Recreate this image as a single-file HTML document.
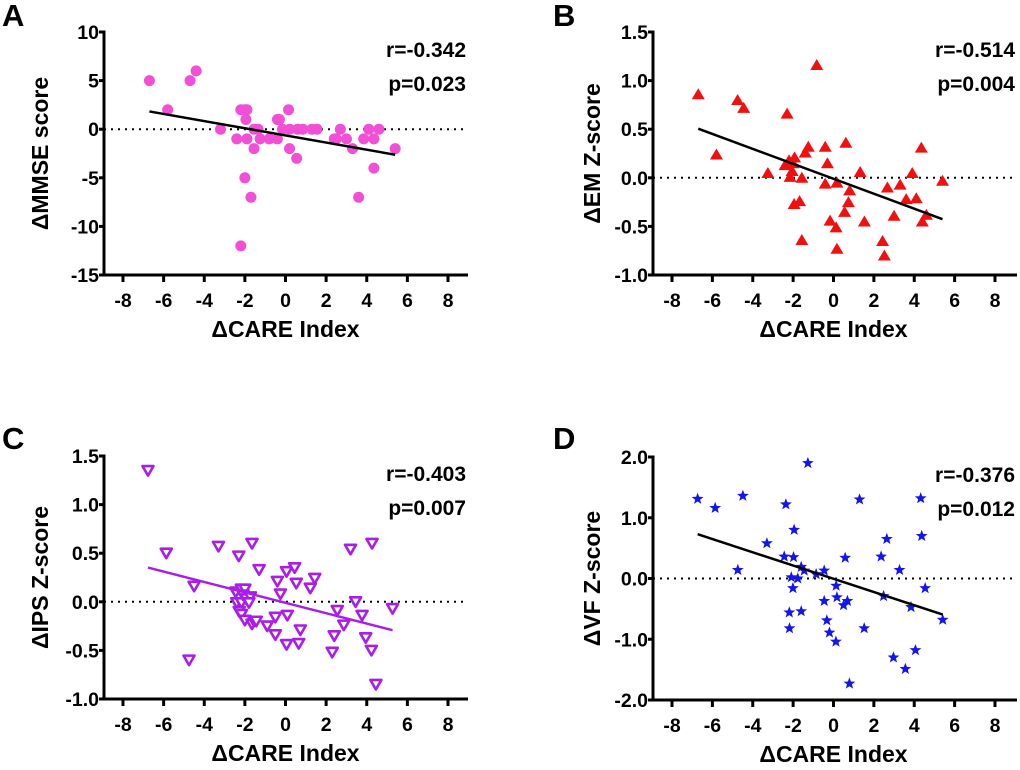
<!DOCTYPE html>
<html><head><meta charset="utf-8"><style>
body{margin:0;background:#fff;}
svg text{font-family:"Liberation Sans",Arial,sans-serif;font-weight:bold;fill:#000;}
</style></head><body>
<svg id="fig" width="1020" height="765" viewBox="0 0 1020 765" xmlns="http://www.w3.org/2000/svg"></svg>
<script>
// Panel A: ΔMMSE
const aX=[-6.7,-5.8,-4.7,-4.4,-3.2,-2.4,-2.2,-2.0,-1.9,-1.95,-1.9,-2.0,-1.7,-2.2,-1.55,-1.35,-1.55,-1.25,-0.8,-0.4,-0.4,-0.3,-0.15,0.2,0.15,0.2,0.55,0.6,0.85,1.3,1.55,2.4,2.5,2.7,3.0,3.3,3.6,3.85,4.1,4.35,4.35,4.6,5.4];
const aY=[5,2,5,6,0,-1,2,2,2,1,-1,-5,-7,-12,0,0,-2,-1,-1,-1,1,1,0,0,2,-2,-3,0,0,0,0,-1,-1,0,-1,-2,-7,-1,0,-1,-4,0,-2];
// Panel B: ΔEM
const bX=[-6.7,-5.8,-4.75,-4.45,-2.3,-3.25,-2.4,-2.2,-1.93,-2.0,-2.05,-2.15,-1.57,-1.95,-1.68,-1.57,-1.4,-1.25,-0.83,-0.41,-0.3,-0.41,-0.17,0.13,0.17,0.17,0.61,0.8,0.74,0.55,1.32,1.53,2.43,2.52,2.67,3.0,3.3,3.6,3.9,4.1,4.35,4.4,4.6,5.4];
const bY=[0.86,0.24,0.80,0.72,0.66,0.05,0.13,0.18,0.21,0.15,0.07,0.01,0.0,-0.27,-0.24,-0.64,0.26,0.32,1.16,0.32,0.15,-0.06,-0.44,-0.51,-0.73,-0.05,0.36,-0.13,-0.25,-0.35,0.06,-0.45,-0.65,-0.80,-0.10,-0.39,-0.07,-0.22,0.05,-0.21,0.31,-0.45,-0.38,-0.03];
// Panel C: ΔIPS
const cX=[-6.77,-5.87,-4.5,-4.75,-3.3,-2.3,-1.65,-1.3,-2.45,-2.17,-2.0,-2.4,-2.17,-2.09,-1.93,-1.73,-1.8,-2.28,-2.17,-2.0,-1.65,-1.55,-1.44,-0.9,-0.5,-0.5,-0.4,-0.25,0.05,0.45,0.09,0.05,0.53,0.65,0.73,1.22,1.44,2.3,2.4,2.55,2.87,3.2,3.45,3.77,3.95,4.23,4.26,4.45,5.27];
const cY=[1.35,0.50,0.16,-0.60,0.57,0.47,0.60,0.33,0.10,0.13,0.13,-0.01,-0.01,0.07,0.03,0.05,-0.01,-0.10,-0.13,-0.19,-0.23,-0.20,-0.20,-0.25,-0.34,-0.16,0.21,0.08,0.31,0.35,-0.14,-0.44,0.19,-0.43,-0.29,0.14,0.24,-0.52,-0.35,-0.09,-0.24,0.54,0.0,-0.14,-0.37,-0.50,0.60,-0.85,-0.07];
// Panel D: ΔVF
const dX=[-6.73,-5.86,-4.49,-4.74,-2.36,-1.95,-3.3,-2.44,-1.98,-1.6,-1.45,-2.09,-1.77,-2.01,-2.19,-2.18,-1.6,-1.27,-0.86,-0.46,-0.46,-0.33,-0.2,0.12,0.13,0.17,0.5,0.69,0.58,0.79,1.29,1.52,2.36,2.64,2.48,2.97,3.27,3.56,3.84,4.06,4.32,4.37,4.54,5.41];
const dY=[1.31,1.16,1.36,0.14,1.22,0.80,0.58,0.36,0.35,0.19,0.13,0.02,0.0,-0.16,-0.56,-0.82,-0.54,1.9,0.07,0.13,-0.37,-0.69,-0.89,-1.04,-0.12,-0.31,-0.44,-0.37,0.34,-1.73,1.30,-0.82,0.36,0.65,-0.29,-1.30,0.14,-1.49,-0.47,-1.18,1.32,0.70,-0.16,-0.68];
const xTicks=[-8,-6,-4,-2,0,2,4,6,8];
const aTicks=[10,5,0,-5,-10,-15], aTickLbl=["10","5","0","-5","-10","-15"];
const bTicks=[1.5,1.0,0.5,0,-0.5,-1.0], bTickLbl=["1.5","1.0","0.5","0.0","-0.5","-1.0"];
const dTicks=[2,1,0,-1,-2], dTickLbl=["2.0","1.0","0.0","-1.0","-2.0"];

const NS="http://www.w3.org/2000/svg", svg=document.getElementById('fig');
function mk(tag,at,parent){const e=document.createElementNS(NS,tag);for(const k in at)e.setAttribute(k,at[k]);(parent||svg).appendChild(e);return e;}

function panel(o){
  const g=mk('g',{});
  
  
  const sx=v=>o.x0+(v+8)*(o.x1-o.x0)/16;
  const sy=v=>o.yTop+(o.yMax-v)*(o.yBot-o.yTop)/(o.yMax-o.yMin);
  const L=mk('text',{x:o.lx,y:o.ly,'font-size':31},g);L.textContent=o.letter;
  
  const z=mk('line',{x1:o.ax,x2:o.axEnd,y1:sy(0),y2:sy(0),stroke:'#000','stroke-width':2,'stroke-dasharray':'2,5'},g);
  
  const ya=mk('line',{x1:o.ax,x2:o.ax,y1:o.yTop-1.5,y2:o.yBot+1.5,stroke:'#000','stroke-width':3},g);
  
  const xa=mk('line',{x1:o.ax-1.5,x2:o.axEnd,y1:o.yBot,y2:o.yBot,stroke:'#000','stroke-width':3},g);
  
  o.yt.forEach((v,i)=>{
    mk('line',{x1:o.ax-5,x2:o.ax,y1:sy(v),y2:sy(v),stroke:'#000','stroke-width':3},g);
    const t=mk('text',{x:o.ax-5,y:sy(v)+7,'font-size':19.5,'text-anchor':'end'},g);t.textContent=o.ytl[i];
    
  });
  xTicks.forEach(v=>{
    mk('line',{x1:sx(v),x2:sx(v),y1:o.yBot,y2:o.yBot+7,stroke:'#000','stroke-width':3},g);
    const t=mk('text',{x:sx(v),y:o.yBot+32,'font-size':19.5,'text-anchor':'middle'},g);t.textContent=String(v);
    
  });
  const xt=mk('text',{x:sx(0),y:o.yBot+62,'font-size':23,'text-anchor':'middle'},g);xt.textContent='ΔCARE Index';
  
  const cy=(o.yTop+o.yBot)/2;
  const yt=mk('text',{x:o.ytx,y:cy,'font-size':23,'text-anchor':'middle',transform:`rotate(-90 ${o.ytx} ${cy})`},g);yt.textContent=o.ytitle;
  
  const r=mk('text',{x:o.axEnd-2,y:o.yTop+25,'font-size':21,'text-anchor':'end'},g);r.textContent=o.r;
  
  const p=mk('text',{x:o.axEnd-2,y:o.yTop+59,'font-size':21,'text-anchor':'end'},g);p.textContent=o.p;
  
  o.X.forEach((xv,i)=>{
    const px=sx(xv),py=sy(o.Y[i]);let e;
    if(o.mk==='circle') e=mk('circle',{cx:px,cy:py,r:5.5,fill:o.col},g);
    else if(o.mk==='tri') e=mk('polygon',{points:`${px},${py-6} ${px-6.5},${py+5} ${px+6.5},${py+5}`,fill:o.col},g);
    else if(o.mk==='dtri') e=mk('polygon',{points:`${px-5.5},${py-4.5} ${px+5.5},${py-4.5} ${px},${py+5}`,fill:'#fff',stroke:o.col,'stroke-width':2.6,'stroke-linejoin':'round'},g);
    else { let pts=[];for(let k=0;k<10;k++){const a=-Math.PI/2+k*Math.PI/5,rr=k%2?2.6:6.2;pts.push((px+rr*Math.cos(a)).toFixed(1)+','+(py+rr*Math.sin(a)).toFixed(1));}
      e=mk('polygon',{points:pts.join(' '),fill:o.col},g);}
    
    
  });
  const n=o.X.length;let mx=0,my=0;o.X.forEach((v,i)=>{mx+=v;my+=o.Y[i];});mx/=n;my/=n;
  let sxy=0,sxx=0;o.X.forEach((v,i)=>{sxy+=(v-mx)*(o.Y[i]-my);sxx+=(v-mx)*(v-mx);});
  const b=sxy/sxx,a=my-b*mx,xmin=Math.min(...o.X),xmax=Math.max(...o.X);
  const rl=mk('line',{x1:sx(xmin),y1:sy(a+b*xmin),x2:sx(xmax),y2:sy(a+b*xmax),stroke:o.lineCol,'stroke-width':2.5},g);
  
  
}
panel({name:'panel-a-mmse',letter:'A',lx:2,ly:26,ax:104,axEnd:468,x0:123,x1:448,yTop:32,yBot:275,yMax:10,yMin:-15,yt:aTicks,ytl:aTickLbl,ytx:48,ytitle:'ΔMMSE score',r:'r=-0.342',p:'p=0.023',X:aX,Y:aY,mk:'circle',col:'#f04fd6',lineCol:'#000'});
panel({name:'panel-b-em',letter:'B',lx:553,ly:26,ax:653,axEnd:1017,x0:672,x1:995,yTop:32,yBot:275,yMax:1.5,yMin:-1.0,yt:bTicks,ytl:bTickLbl,ytx:600,ytitle:'ΔEM Z-score',r:'r=-0.514',p:'p=0.004',X:bX,Y:bY,mk:'tri',col:'#f01010',lineCol:'#000'});
panel({name:'panel-c-ips',letter:'C',lx:2,ly:449,ax:104,axEnd:468,x0:123,x1:448,yTop:456,yBot:699,yMax:1.5,yMin:-1.0,yt:bTicks,ytl:bTickLbl,ytx:48,ytitle:'ΔIPS Z-score',r:'r=-0.403',p:'p=0.007',X:cX,Y:cY,mk:'dtri',col:'#a81ee8',lineCol:'#a81ee8'});
panel({name:'panel-d-vf',letter:'D',lx:553,ly:449,ax:653,axEnd:1017,x0:672,x1:995,yTop:457,yBot:700,yMax:2,yMin:-2,yt:dTicks,ytl:dTickLbl,ytx:600,ytitle:'ΔVF Z-score',r:'r=-0.376',p:'p=0.012',X:dX,Y:dY,mk:'star',col:'#1414f0',lineCol:'#000'});
</script>
</body></html>
